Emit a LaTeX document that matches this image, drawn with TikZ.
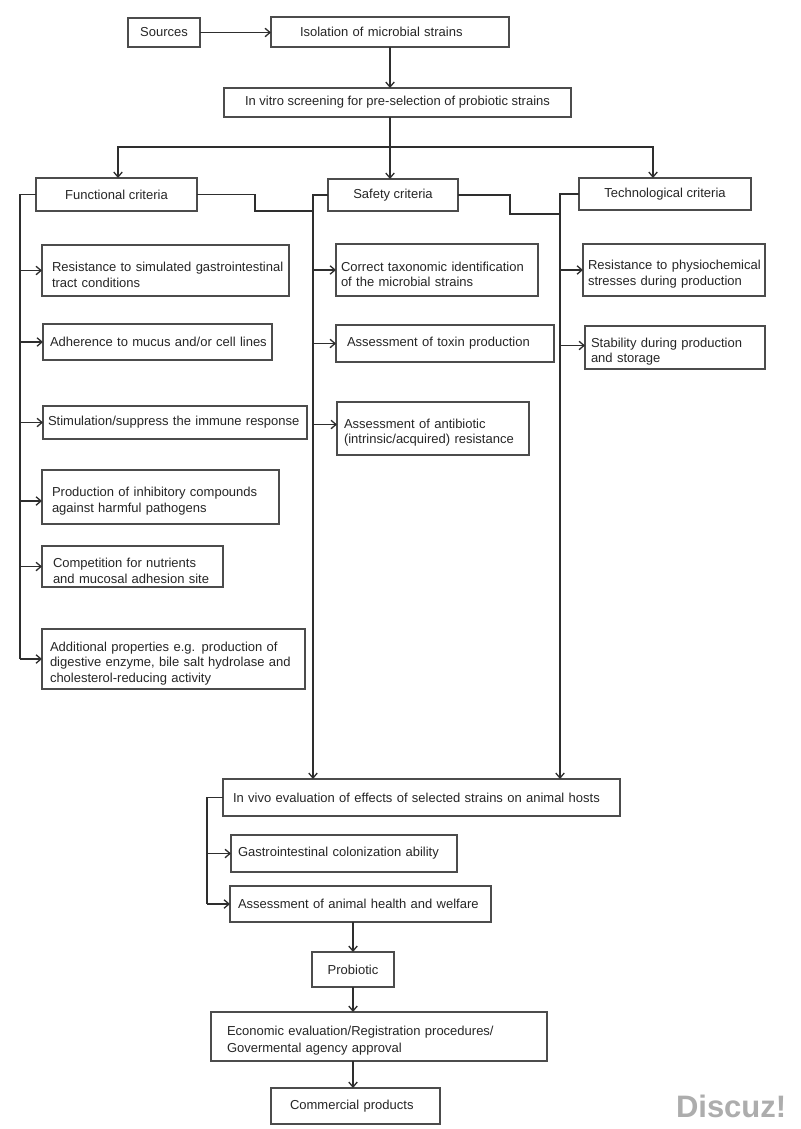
\documentclass[tikz,border=0pt]{standalone}
\usepackage{fontspec}
\setmainfont{Liberation Sans}
\usetikzlibrary{arrows.meta}
\newcommand\oneln[1]{\mbox{#1}}
\newcommand\leadln[1]{\mbox{\rule{0pt}{18pt}#1}}
\begin{document}
\begin{tikzpicture}[x=1pt,y=-1pt,
  every node/.style={font=\fontsize{13}{15.5}\selectfont, text=black!85, outer sep=0pt},
  cbox/.style={draw=black!70, line width=1.5pt, anchor=north west, inner sep=0pt, align=center},
  lbox/.style={draw=black!70, line width=1.5pt, anchor=north west, inner ysep=0pt, align=left,
    execute at begin node={\hyphenpenalty=10000\exhyphenpenalty=10000\hbadness=10000\hfuzz=50pt}},
  ln/.style={draw=black!82, line width=1.7pt},
  arr/.style={ln, -{Straight Barb[length=5pt,width=8.5pt,line width=1.3pt]}},
]
\fill[white] (0,0) rectangle (800,1129);
\useasboundingbox (0,0) rectangle (800,1129);

% top
\node[cbox, minimum width=72pt, minimum height=29pt] (src) at (128,18) {Sources};
\node[lbox, minimum height=30pt, inner xsep=29pt, text width=180pt] (iso) at (271,17) {\oneln{Isolation of microbial strains}};
\node[cbox, minimum width=347pt, minimum height=29pt] (vitro) at (224,88) {In vitro screening for pre-selection of probiotic strains};
\node[cbox, minimum width=161pt, minimum height=33pt] (func) at (36,178) {Functional criteria};
\node[cbox, minimum width=130pt, minimum height=32pt] (safe) at (328,179) {Safety criteria};
\node[cbox, minimum width=172pt, minimum height=32pt] (tech) at (579,178) {Technological criteria};

% functional items
\node[lbox, minimum height=51pt, inner xsep=10pt, text width=227pt] (f1) at (42,245) {\leadln{Resistance to simulated gastrointestinal}\\\oneln{tract conditions}};
\node[lbox, minimum height=36pt, inner xsep=7pt, text width=215pt] (f2) at (43,324) {\oneln{Adherence to mucus and/or cell lines}};
\node[lbox, minimum height=33pt, inner xsep=5pt, text width=254pt] (f3) at (43,406) {\oneln{Stimulation/suppress the immune response}};
\node[lbox, minimum height=54pt, inner xsep=10pt, text width=217pt] (f4) at (42,470) {\leadln{Production of inhibitory compounds}\\\oneln{against harmful pathogens}};
\node[lbox, minimum height=41pt, inner xsep=11pt, text width=159pt] (f5) at (42,546) {\leadln{Competition for nutrients}\\\oneln{and mucosal adhesion site}};
\node[lbox, minimum height=60pt, inner xsep=8pt, text width=247pt] (f6) at (42,629) {\leadln{Additional properties e.g. production of}\\\oneln{digestive enzyme, bile salt hydrolase and}\\\oneln{cholesterol-reducing activity}};

% safety items
\node[lbox, minimum height=52pt, inner xsep=5pt, text width=192pt] (s1) at (336,244) {\leadln{Correct taxonomic identification}\\\oneln{of the microbial strains}};
\node[lbox, minimum height=37pt, inner xsep=11pt, text width=196pt] (s2) at (336,325) {\oneln{Assessment of toxin production}};
\node[lbox, minimum height=53pt, inner xsep=7pt, text width=178pt] (s3) at (337,402) {\leadln{Assessment of antibiotic}\\\oneln{(intrinsic/acquired) resistance}};

% technological items
\node[lbox, minimum height=52pt, inner xsep=5pt, text width=172pt] (t1) at (583,244) {\leadln{Resistance to physiochemical}\\\oneln{stresses during production}};
\node[lbox, minimum height=43pt, inner xsep=6pt, text width=168pt] (t2) at (585,326) {\leadln{Stability during production}\\\oneln{and storage}};

% in vivo
\node[lbox, minimum height=37pt, inner xsep=10pt, text width=377pt] (vivo) at (223,779) {\oneln{In vivo evaluation of effects of selected strains on animal hosts}};
\node[lbox, minimum height=37pt, inner xsep=7pt, text width=212pt] (g1) at (231,835) {\oneln{Gastrointestinal colonization ability}};
\node[lbox, minimum height=36pt, inner xsep=8pt, text width=245pt] (g2) at (230,886) {\oneln{Assessment of animal health and welfare}};

% bottom
\node[cbox, minimum width=82pt, minimum height=35pt] (prob) at (312,952) {Probiotic};
\node[lbox, minimum height=49pt, inner xsep=16pt, text width=304pt, font=\fontsize{13}{17}\selectfont] (econ) at (211,1012) {\leadln{Economic evaluation/Registration procedures/}\\\oneln{Govermental agency approval}};
\node[lbox, minimum height=36pt, inner xsep=19pt, text width=131pt] (comm) at (271,1088) {\oneln{Commercial products}};

% connectors top
\draw[arr] (src.east) -- (src.east -| iso.west);
\draw[arr] (iso.south) -- (iso.south |- vitro.north);
\coordinate (br) at (390,147);
\draw[ln] (br |- vitro.south) -- (br);
\draw[arr] (br) -| ([xshift=1.5pt]func.north);
\draw[arr] (br) -- (br |- safe.north);
\draw[arr] (br) -| ([xshift=-12pt]tech.north);

% safety line
\coordinate (sl) at (313,195);
\coordinate (j1) at (313,211);
\draw[arr] (safe.west) -- (sl) -- (sl |- vivo.north);
\draw[ln] (func.east) -- ++(58,0) |- (j1);

% technological line
\coordinate (tl) at (560,194);
\coordinate (j2) at (560,214);
\draw[arr] (tech.west) -- (tl) -- (tl |- vivo.north);
\draw[ln] (safe.east) -- ++(52,0) |- (j2);

% functional line
\coordinate (fl) at (20,194.5);
\draw[ln] (func.west) -- (fl) -- (fl |- f6.west);
\coordinate (f4a) at ([yshift=-4pt]f4.west);
\foreach \n in {f1,f2,f3,f5,f6} { \draw[arr] (fl |- \n.west) -- (\n.west); }
\draw[arr] (fl |- f4a) -- (f4a);

% safety arrows
\coordinate (s3a) at ([yshift=4pt]s3.west);
\draw[arr] (sl |- s1.west) -- (s1.west);
\draw[arr] (sl |- s2.west) -- (s2.west);
\draw[arr] (sl |- s3a) -- (s3a);

% technological arrows
\coordinate (t2a) at ([yshift=2pt]t2.west);
\draw[arr] (tl |- t1.west) -- (t1.west);
\draw[arr] (tl |- t2a) -- (t2a);

% in vivo bracket
\coordinate (vl) at (207,797.5);
\draw[ln] (vivo.west) -- (vl) -- (vl |- g2.west);
\draw[arr] (vl |- g1.west) -- (g1.west);
\draw[arr] (vl |- g2.west) -- (g2.west);

% bottom chain
\draw[arr] (prob.north |- g2.south) -- (prob.north);
\draw[arr] (prob.south) -- (prob.south |- econ.north);
\draw[arr] (prob.south |- econ.south) -- (prob.south |- comm.north);

% watermark
\node[anchor=base west, inner sep=0pt, text=black!32, font=\fontsize{31}{31}\selectfont\bfseries] (wm) at (676,1117) {Discuz!};
\end{tikzpicture}
\end{document}
